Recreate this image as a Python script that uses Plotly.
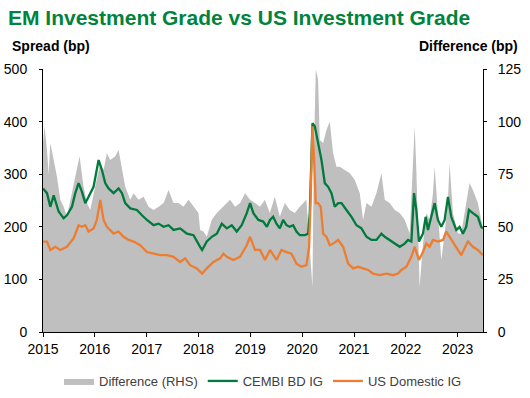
import plotly.graph_objects as go
from datetime import datetime

# ---- data (decimal-year dates, values in bp) ----
cembi_t = [2015.00, 2015.077, 2015.141, 2015.206, 2015.302, 2015.398, 2015.462, 2015.559, 2015.623, 2015.687,
           2015.751, 2015.816, 2015.880, 2015.976, 2016.073, 2016.137, 2016.201, 2016.265, 2016.362, 2016.458,
           2016.522, 2016.586, 2016.683, 2016.811, 2016.908, 2017.004, 2017.132, 2017.229, 2017.325, 2017.421,
           2017.518, 2017.646, 2017.775, 2017.903, 2018.031, 2018.070, 2018.160, 2018.256, 2018.353, 2018.449,
           2018.545, 2018.642, 2018.738, 2018.834, 2018.931, 2018.995, 2019.059, 2019.156, 2019.25, 2019.32,
           2019.38, 2019.441, 2019.505, 2019.570, 2019.634, 2019.698, 2019.762, 2019.827, 2019.891, 2019.955,
           2020.051, 2020.116, 2020.148, 2020.180, 2020.199, 2020.244, 2020.308, 2020.373, 2020.437, 2020.501,
           2020.565, 2020.629, 2020.694, 2020.758, 2020.854, 2020.951, 2021.047, 2021.143, 2021.240, 2021.336,
           2021.432, 2021.529, 2021.593, 2021.689, 2021.785, 2021.882, 2021.978, 2022.042, 2022.107, 2022.158,
           2022.203, 2022.254, 2022.331, 2022.383, 2022.428, 2022.492, 2022.556, 2022.620, 2022.685, 2022.749,
           2022.813, 2022.877, 2022.974, 2023.038, 2023.102, 2023.166, 2023.218, 2023.295, 2023.391, 2023.455,
           2023.488]
cembi_v = [273, 264, 238, 260, 229, 216, 222, 238, 264, 283,
           267, 245, 257, 276, 327, 308, 283, 273, 264, 273,
           264, 245, 235, 232, 222, 213, 203, 206, 200, 203,
           194, 197, 187, 184, 162, 156, 172, 181, 187, 206,
           197, 203, 191, 203, 226, 245, 226, 213, 210, 200,
           213, 219, 206, 197, 213, 203, 200, 203, 191, 184,
           184, 187, 226, 327, 397, 391, 359, 327, 283, 276,
           264, 238, 245, 245, 232, 219, 203, 197, 181, 175,
           175, 187, 181, 175, 168, 162, 168, 175, 172, 264,
           232, 172, 187, 219, 194, 219, 245, 213, 200, 213,
           257, 219, 194, 200, 187, 200, 232, 226, 219, 200,
           197]

us_t = [2015.00, 2015.077, 2015.141, 2015.238, 2015.334, 2015.462, 2015.591, 2015.687, 2015.751, 2015.816,
        2015.880, 2015.976, 2016.040, 2016.105, 2016.169, 2016.233, 2016.362, 2016.458, 2016.554, 2016.651,
        2016.747, 2016.875, 2017.004, 2017.132, 2017.261, 2017.389, 2017.518, 2017.646, 2017.742, 2017.839,
        2017.967, 2018.070, 2018.160, 2018.288, 2018.417, 2018.481, 2018.545, 2018.674, 2018.802, 2018.931,
        2018.995, 2019.091, 2019.188, 2019.284, 2019.380, 2019.505, 2019.602, 2019.698, 2019.794, 2019.891,
        2019.987, 2020.083, 2020.135, 2020.167, 2020.199, 2020.231, 2020.263, 2020.308, 2020.360, 2020.405,
        2020.469, 2020.533, 2020.597, 2020.694, 2020.790, 2020.886, 2020.983, 2021.079, 2021.175, 2021.272,
        2021.368, 2021.496, 2021.625, 2021.753, 2021.850, 2021.914, 2022.010, 2022.107, 2022.171, 2022.254,
        2022.331, 2022.396, 2022.460, 2022.524, 2022.620, 2022.717, 2022.781, 2022.845, 2022.909, 2023.006,
        2023.070, 2023.134, 2023.198, 2023.295, 2023.391, 2023.488]
us_v = [172, 172, 156, 162, 156, 162, 178, 203, 200, 203,
        191, 197, 213, 251, 213, 200, 187, 191, 181, 175,
        172, 165, 152, 149, 146, 146, 143, 133, 140, 127,
        121, 111, 121, 133, 140, 149, 143, 137, 143, 165,
        181, 156, 156, 137, 156, 137, 156, 152, 149, 130,
        124, 127, 162, 264, 391, 327, 245, 245, 238, 187,
        181, 165, 168, 175, 162, 130, 121, 124, 121, 118,
        111, 108, 111, 108, 111, 118, 124, 143, 162, 137,
        152, 168, 162, 175, 172, 175, 191, 181, 172, 156,
        146, 159, 172, 162, 156, 146]

diff_t = [2015.00, 2015.03, 2015.077, 2015.11, 2015.141, 2015.206, 2015.270, 2015.334, 2015.398, 2015.462,
          2015.559, 2015.655, 2015.706, 2015.783, 2015.848, 2015.912, 2016.008, 2016.105, 2016.169, 2016.233,
          2016.297, 2016.394, 2016.458, 2016.522, 2016.586, 2016.683, 2016.747, 2016.843, 2016.940, 2017.036,
          2017.132, 2017.229, 2017.325, 2017.421, 2017.518, 2017.614, 2017.710, 2017.807, 2017.903, 2017.999,
          2018.031, 2018.096, 2018.160, 2018.256, 2018.353, 2018.449, 2018.545, 2018.610, 2018.706, 2018.802,
          2018.899, 2018.995, 2019.091, 2019.188, 2019.281, 2019.377, 2019.473, 2019.570, 2019.666, 2019.762,
          2019.859, 2019.955, 2020.083, 2020.148, 2020.180, 2020.199, 2020.225, 2020.263, 2020.308, 2020.340,
          2020.405, 2020.469, 2020.533, 2020.597, 2020.662, 2020.726, 2020.822, 2020.918, 2021.015, 2021.111,
          2021.175, 2021.240, 2021.336, 2021.432, 2021.529, 2021.593, 2021.689, 2021.785, 2021.882, 2021.978,
          2022.075, 2022.139, 2022.171, 2022.203, 2022.267, 2022.331, 2022.396, 2022.460, 2022.524, 2022.556,
          2022.620, 2022.685, 2022.749, 2022.813, 2022.845, 2022.909, 2023.006, 2023.070, 2023.134, 2023.230,
          2023.295, 2023.391, 2023.455, 2023.488]
diff_v = [90, 97.8, 86.5, 75, 89.8, 81.8, 73.8, 62.8, 59.5, 54.8,
          66, 77, 83.5, 69, 61.3, 58, 69, 80.3, 77, 85,
          81.8, 83.5, 86.5, 78.5, 69, 62.8, 66, 62.8, 64.3, 59.5,
          58, 59.5, 61.3, 67.5, 61.3, 61.3, 59.5, 62.8, 59.5, 56.5,
          48.5, 47.8, 45.3, 53.3, 56.5, 58.8, 61.3, 62.8, 59.5, 61.3,
          66, 62.8, 61.3, 59.5, 62.8, 56.5, 64.3, 54.8, 61.3, 58,
          56.5, 59.5, 62.8, 40.5, 26.3, 21.5, 81.8, 124.8, 120, 91.3,
          89.8, 96, 100, 85, 78.5, 78.5, 77, 75.5, 72.3, 66,
          53.3, 61.3, 59.5, 66, 75.5, 62.8, 61.3, 58, 56.5, 53.3,
          46.8, 78.5, 97.8, 77, 21.5, 42, 56.5, 53.3, 66, 78.5,
          58, 34.3, 46.8, 62.8, 80.3, 56.5, 46.8, 46.8, 56.5, 70.8,
          67.5, 61.3, 53.3, 50]

year_ticks = [2015, 2016, 2017, 2018, 2019, 2020, 2021, 2022, 2023]
x_start, x_end = 2015.0, 2023.49


def to_date(y):
    yr = int(y)
    a, b = datetime(yr, 1, 1), datetime(yr + 1, 1, 1)
    return a + (b - a) * (y - yr)


GREEN = "#007A3D"
ORANGE = "#ED7D31"
GREY = "#BFBFBF"
FONT = "Liberation Sans"

fig = go.Figure()
fig.add_trace(go.Scatter(
    x=[to_date(t) for t in diff_t], y=diff_v, name="Difference (RHS)",
    mode="lines", line=dict(width=0, color=GREY), fill="tozeroy", fillcolor=GREY,
    yaxis="y", hoverinfo="skip"))
fig.add_trace(go.Scatter(
    x=[to_date(t) for t in cembi_t], y=cembi_v, name="CEMBI BD IG",
    mode="lines", line=dict(width=2.3, color=GREEN), yaxis="y2"))
fig.add_trace(go.Scatter(
    x=[to_date(t) for t in us_t], y=us_v, name="US Domestic IG",
    mode="lines", line=dict(width=2.3, color=ORANGE), yaxis="y2"))

fig.update_layout(
    width=530, height=398,
    margin=dict(l=43, r=47, t=69, b=66),
    paper_bgcolor="white", plot_bgcolor="white",
    font=dict(family=FONT, size=13, color="black"),
    title=dict(text="EM Investment Grade vs US Investment Grade",
               font=dict(family=FONT, size=21, color="#00843D", weight="bold"),
               x=8 / 530, xanchor="left", xref="container",
               y=1 - 18 / 398, yanchor="middle"),
    xaxis=dict(type="date", automargin=False,
               range=[to_date(x_start), to_date(x_end)],
               tickvals=[to_date(y) for y in year_ticks],
               ticktext=[str(y) for y in year_ticks],
               showgrid=False, zeroline=False, showline=True, linecolor="black", linewidth=1,
               ticks="outside", ticklen=4, tickcolor="black",
               tickfont=dict(size=14, family=FONT, color="black")),
    yaxis=dict(range=[0, 125], dtick=25, side="right", automargin=False,
               showgrid=False, zeroline=False, showline=True, linecolor="black", linewidth=1,
               ticks="outside", ticklen=3, tickcolor="black", ticklabelstandoff=8,
               tickfont=dict(size=14, family=FONT, color="black")),
    yaxis2=dict(range=[0, 500], dtick=100, side="left", overlaying="y", automargin=False,
                showgrid=False, zeroline=False, showline=True, linecolor="black", linewidth=1,
                ticks="outside", ticklen=3, tickcolor="black", ticklabelstandoff=9,
                tickfont=dict(size=14, family=FONT, color="black")),
    legend=dict(orientation="h", x=0.5, xanchor="center",
                yref="container", y=1 - 381 / 398, yanchor="middle",
                font=dict(size=13, family=FONT, color="#404040"),
                itemwidth=30, tracegroupgap=0, bgcolor="rgba(0,0,0,0)"),
    showlegend=True,
    hovermode=False,
)

fig.add_annotation(text="Spread (bp)", xref="paper", yref="paper", x=-33 / 440, y=1 + 23 / 263,
                   xanchor="left", yanchor="middle", showarrow=False,
                   font=dict(size=14, family=FONT, color="black", weight="bold"))
fig.add_annotation(text="Difference (bp)", xref="paper", yref="paper", x=1 + 37 / 440, y=1 + 23 / 263,
                   xanchor="right", yanchor="middle", showarrow=False,
                   font=dict(size=14, family=FONT, color="black", weight="bold"))

fig.write_html("out.html", config={"displayModeBar": False},
               post_script="document.body.style.margin='0';")
